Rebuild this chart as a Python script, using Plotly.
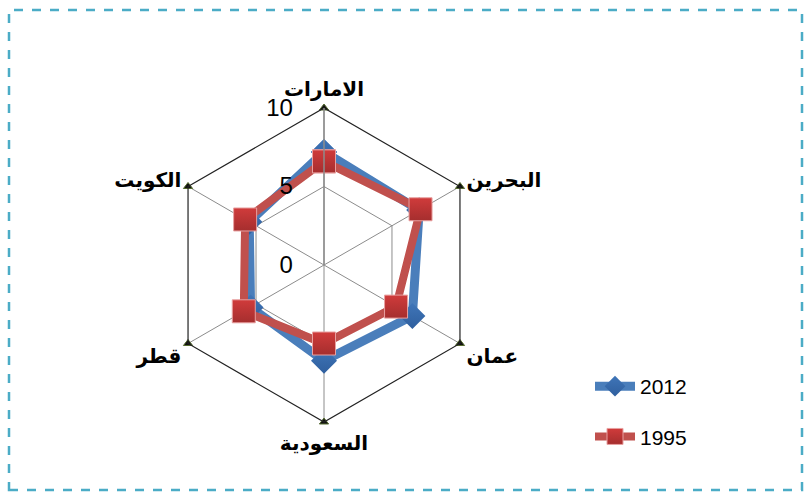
import plotly.graph_objects as go

# Countries around the radar, clockwise from the top
countries = ["الامارات", "البحرين", "عمان", "السعودية", "قطر", "الكويت"]

# Index values per year
values_2012 = [7.2, 7.0, 6.5, 6.1, 5.4, 5.5]
values_1995 = [6.6, 7.1, 5.3, 5.0, 5.9, 5.8]

radial_ticks = [0, 5, 10]
radial_max = 10

W, H = 804, 493

def closed(seq):
    return list(seq) + [seq[0]]

fig = go.Figure()

fig.add_trace(go.Scatterpolar(
    r=closed(values_2012), theta=closed(countries),
    name="2012", mode="lines+markers",
    line=dict(color="#4A7EBB", width=9),
    marker=dict(symbol="diamond", size=20, color="#3F75B8",
                gradient=dict(type="vertical", color="#2F5F9E"),
                line=dict(width=0)),
    legendgroup="a",
))

fig.add_trace(go.Scatterpolar(
    r=closed(values_1995), theta=closed(countries),
    name="1995", mode="lines+markers",
    line=dict(color="#C0504D", width=8),
    marker=dict(symbol="square", size=23, color="#D03B3B",
                gradient=dict(type="vertical", color="#A52E2E"),
                line=dict(width=1, color="#E8A0A0")),
    legendgroup="b",
))

# small triangle markers at the outer vertices
fig.add_trace(go.Scatterpolar(
    r=[radial_max] * len(countries), theta=countries,
    mode="markers", showlegend=False, hoverinfo="skip",
    marker=dict(symbol="triangle-up", size=8, color="#111111",
                line=dict(width=1, color="#556B2F")),
))

# dashed outer frame
fig.add_shape(
    type="rect", xref="paper", yref="paper",
    x0=9 / W, x1=802 / W, y0=1 - 490 / H, y1=1 - 10 / H,
    line=dict(color="#4BACC6", width=2.5, dash="dash"),
    fillcolor="rgba(0,0,0,0)",
)

fig.update_layout(
    width=W, height=H,
    margin=dict(l=0, r=0, t=0, b=0),
    paper_bgcolor="white", plot_bgcolor="white",
    font=dict(family="Liberation Sans, Arial, DejaVu Sans", color="black"),
    polar=dict(
        domain=dict(x=[167 / W, 481 / W], y=[1 - 422 / H, 1 - 108 / H]),
        bgcolor="white",
        gridshape="linear",
        radialaxis=dict(
            range=[0, radial_max], tickvals=radial_ticks,
            angle=90, side="counterclockwise", tickangle=90,
            showline=True, linecolor="#8C8C8C", linewidth=1.5,
            gridcolor="#8C8C8C", gridwidth=1.2,
            ticks="outside", ticklen=22, tickcolor="rgba(0,0,0,0)",
            tickfont=dict(size=24, family="Liberation Sans, Arial", color="black"),
        ),
        angularaxis=dict(
            direction="clockwise", rotation=90,
            showline=True, linecolor="#222222", linewidth=1.2,
            gridcolor="#8C8C8C", gridwidth=1.2,
            ticks="outside", ticklen=3, tickcolor="rgba(0,0,0,0)",
            tickfont=dict(size=20, family="DejaVu Sans, Arial", color="black",
                          weight="bold"),
        ),
    ),
    legend=dict(
        x=590 / W, y=1 - 366 / H, xanchor="left", yanchor="top",
        font=dict(size=21, family="Liberation Sans, Arial", color="black"),
        tracegroupgap=20, itemwidth=40,
        bgcolor="rgba(0,0,0,0)",
    ),
    showlegend=True,
)

fig.write_html("out.html")
